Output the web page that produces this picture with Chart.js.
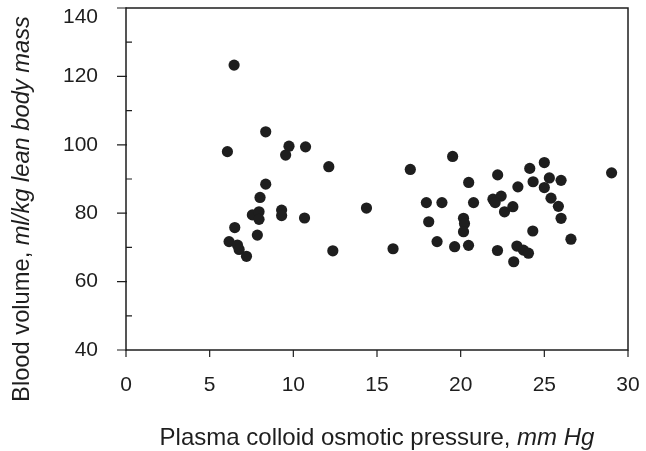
<!DOCTYPE html>
<html><head><meta charset="utf-8">
<script src="https://cdn.jsdelivr.net/npm/chart.js@4"></script>
<style>html,body{margin:0;padding:0;background:#fff}#wrap{width:646px;height:451px;position:relative}</style>
</head><body><div id="wrap"><canvas id="c" width="646" height="451"></canvas></div>
<script>
// Plasma colloid osmotic pressure (mm Hg)
const xValues = [6.46, 6.06, 8.35, 9.74, 9.54, 10.73, 12.12, 8.35, 8.01, 7.55,
  7.95, 7.95, 9.30, 9.30, 10.67, 6.50, 7.85, 6.16, 6.66, 6.76,
  7.20, 12.36, 14.37, 15.96, 16.99, 19.52, 17.95, 18.88, 18.09, 18.59,
  19.64, 20.47, 20.17, 20.23, 20.17, 20.48, 20.77, 22.21, 21.93, 22.42,
  22.06, 22.20, 22.62, 23.12, 23.42, 24.13, 24.33, 25.00, 25.30, 26.00,
  25.00, 25.40, 25.84, 26.00, 24.31, 26.59, 23.36, 23.75, 24.05, 23.17,
  29.02];
// Blood volume (ml/kg lean body mass)
const yValues = [123.3, 98.0, 103.8, 99.6, 97.0, 99.4, 93.6, 88.5, 84.6, 79.5,
  80.4, 78.2, 80.9, 79.3, 78.6, 75.8, 73.6, 71.7, 70.7, 69.4,
  67.4, 69.0, 81.5, 69.6, 92.8, 96.6, 83.1, 83.1, 77.5, 71.7,
  70.2, 70.6, 78.5, 77.0, 74.6, 89.0, 83.1, 91.2, 84.1, 85.0,
  83.1, 69.1, 80.4, 81.9, 87.7, 93.1, 89.2, 94.8, 90.3, 89.6,
  87.5, 84.4, 82.0, 78.5, 74.8, 72.4, 70.4, 69.2, 68.3, 65.8,
  91.8];
const xTickValues = [0, 5, 10, 15, 20, 25, 30];
const yTickValues = [40, 60, 80, 100, 120, 140];
const yMinorTickValues = [50, 70, 90, 110, 130];
const xTitleParts = ['Plasma colloid osmotic pressure, ', 'mm Hg'];
const yTitleParts = ['Blood volume, ', 'ml/kg lean body mass'];

const FONT = '"Liberation Sans", Arial, sans-serif';
const INK = '#1e1e1e';

function drawMixed(ctx, parts, size) {
  const fonts = [size + 'px ' + FONT, 'italic ' + size + 'px ' + FONT];
  let total = 0;
  const widths = parts.map((p, i) => { ctx.font = fonts[i]; const w = ctx.measureText(p).width; total += w; return w; });
  let x = -total / 2;
  parts.forEach((p, i) => { ctx.font = fonts[i]; ctx.fillText(p, x, 0); x += widths[i]; });
}

function noPad(s) { s.paddingTop = 0; s.paddingBottom = 0; s.paddingLeft = 0; s.paddingRight = 0; }

const framePlugin = {
  id: 'frame',
  afterDraw(chart) {
    const ctx = chart.ctx, a = chart.chartArea;
    const xs = chart.scales.x, ys = chart.scales.y;
    ctx.save();
    ctx.strokeStyle = INK;
    ctx.lineWidth = 1.5;
    ctx.strokeRect(a.left, a.top, a.right - a.left, a.bottom - a.top);
    ctx.lineWidth = 1.2;
    ctx.beginPath();
    yTickValues.forEach(v => { const y = ys.getPixelForValue(v); ctx.moveTo(a.left - 9, y); ctx.lineTo(a.left + 1, y); });
    yMinorTickValues.forEach(v => { const y = ys.getPixelForValue(v); ctx.moveTo(a.left, y); ctx.lineTo(a.left + 6, y); });
    xTickValues.forEach(v => { const x = xs.getPixelForValue(v); ctx.moveTo(x, a.bottom); ctx.lineTo(x, a.bottom + 7); });
    ctx.stroke();
    ctx.fillStyle = INK;
    ctx.textBaseline = 'middle';
    ctx.textAlign = 'left';
    ctx.save();
    ctx.translate((a.left + a.right) / 2, 438);
    drawMixed(ctx, xTitleParts, 24);
    ctx.restore();
    ctx.save();
    ctx.translate(22, 209);
    ctx.rotate(-Math.PI / 2);
    drawMixed(ctx, yTitleParts, 23.7);
    ctx.restore();
    ctx.restore();
  }
};

new Chart(document.getElementById('c'), {
  type: 'scatter',
  data: {
    datasets: [{
      data: xValues.map((x, i) => ({ x: x, y: yValues[i] })),
      pointRadius: 5.6,
      pointHoverRadius: 5.6,
      backgroundColor: INK,
      borderWidth: 0
    }]
  },
  options: {
    responsive: false,
    animation: false,
    devicePixelRatio: 1,
    layout: { padding: { top: 8, right: 18, left: 0, bottom: 0 } },
    plugins: { legend: { display: false }, tooltip: { enabled: false } },
    scales: {
      x: {
        type: 'linear', min: 0, max: 30,
        afterBuildTicks: s => { s.ticks = xTickValues.map(v => ({ value: v })); },
        afterFit: s => { s.height = 101; noPad(s); },
        grid: { display: false, drawTicks: false },
        border: { display: false },
        ticks: { padding: 23, color: INK, font: { family: FONT, size: 21 } }
      },
      y: {
        type: 'linear', min: 40, max: 140,
        afterBuildTicks: s => { s.ticks = yTickValues.map(v => ({ value: v })); },
        afterFit: s => { s.width = 126; noPad(s); },
        grid: { display: false, drawTicks: false },
        border: { display: false },
        ticks: {
          padding: 28, color: INK,
          font: { family: FONT, size: 21, lineHeight: '18px' },
          callback: v => (v === 140 ? ['', String(v)] : String(v))
        }
      }
    }
  },
  plugins: [framePlugin]
});
</script></body></html>
